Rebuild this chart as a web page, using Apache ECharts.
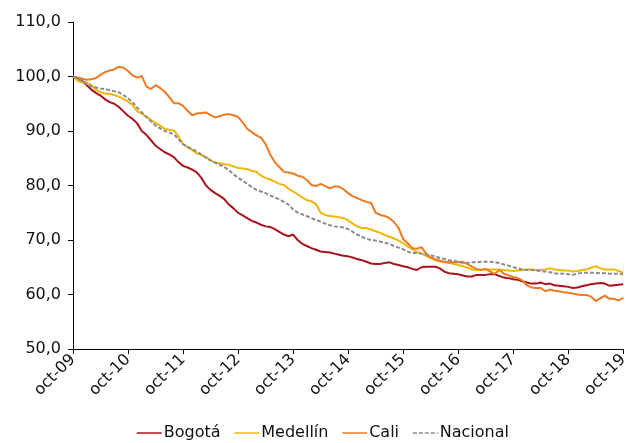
<!DOCTYPE html>
<html>
<head>
<meta charset="utf-8">
<script src="https://cdn.jsdelivr.net/npm/echarts@6/dist/echarts.min.js"></script>
<style>
  html, body { margin: 0; padding: 0; background: #fff; }
  #chart { width: 631px; height: 443px; }
</style>
</head>
<body>
<div id="chart"></div>
<script>
// Monthly index (oct-09 = 100), oct-09 .. oct-19
const monthNames = ['ene', 'feb', 'mar', 'abr', 'may', 'jun', 'jul', 'ago', 'sep', 'oct', 'nov', 'dic'];
const startYear = 2009;
const startMonth = 9; // octubre
const monthCount = 121;

const bogota = [
  100.0, 99.7, 99.2, 98.4, 97.6, 97.0, 96.5, 95.8, 95.3, 95.0, 94.4, 93.6,
  92.8, 92.2, 91.4, 90.0, 89.3, 88.3, 87.3, 86.7, 86.1, 85.7, 85.2, 84.3,
  83.6, 83.3, 82.9, 82.4, 81.4, 80.0, 79.2, 78.6, 78.1, 77.5, 76.5, 75.8,
  75.0, 74.5, 74.0, 73.5, 73.2, 72.8, 72.5, 72.4, 72.0, 71.5, 71.0, 70.7,
  71.0, 70.0, 69.3, 68.9, 68.5, 68.2, 67.9, 67.8, 67.7, 67.5, 67.3, 67.1,
  67.0, 66.8, 66.5, 66.3, 66.0, 65.7, 65.6, 65.6, 65.8, 65.9, 65.6, 65.4,
  65.2, 65.0, 64.7, 64.5, 65.0, 65.1, 65.1, 65.1, 64.8, 64.2, 63.9, 63.8,
  63.7, 63.5, 63.3, 63.3, 63.6, 63.6, 63.6, 63.7, 63.7, 63.4, 63.1, 63.0,
  62.8, 62.7, 62.4, 62.2, 62.0, 62.0, 62.2, 61.9, 62.0, 61.7, 61.6, 61.5,
  61.4, 61.2, 61.3, 61.5, 61.7, 61.9, 62.0, 62.1, 62.0, 61.6, 61.7, 61.8,
  61.9
];

const medellin = [
  100.0, 99.2, 98.9, 98.9, 98.4, 97.6, 97.1, 96.9, 96.8, 96.6, 96.3, 95.9,
  95.4, 94.8, 93.6, 93.2, 92.6, 92.0, 91.5, 91.0, 90.4, 90.2, 90.1, 89.0,
  87.6, 87.0, 86.5, 85.9, 85.6, 85.2, 84.6, 84.2, 84.1, 83.9, 83.8, 83.5,
  83.2, 83.1, 83.0, 82.7, 82.5, 81.8, 81.4, 81.1, 80.7, 80.3, 80.1, 79.4,
  78.9, 78.4, 77.8, 77.3, 77.1, 76.6, 75.0, 74.6, 74.4, 74.3, 74.2, 74.0,
  73.6, 73.0, 72.5, 72.2, 72.2, 71.9, 71.6, 71.3, 70.9, 70.6, 70.3, 69.9,
  69.4, 68.8, 68.3, 67.8, 67.5, 67.1, 66.7, 66.3, 66.1, 65.9, 65.8, 65.6,
  65.4, 65.2, 64.9, 64.6, 64.5, 64.6, 64.6, 64.6, 64.6, 64.6, 64.5, 64.4,
  64.3, 64.4, 64.5, 64.6, 64.6, 64.5, 64.5, 64.6, 64.8, 64.6, 64.5, 64.4,
  64.4, 64.2, 64.3, 64.5, 64.6, 64.9, 65.2, 64.8, 64.6, 64.6, 64.6, 64.3,
  64.0
];

const cali = [
  100.0, 99.8, 99.6, 99.4, 99.5, 99.7, 100.3, 100.8, 101.1, 101.3, 101.8, 101.6,
  101.0, 100.2, 99.8, 100.1, 98.2, 97.7, 98.4, 97.9, 97.2, 96.2, 95.1, 95.1,
  94.6, 93.7, 92.9, 93.2, 93.3, 93.4, 92.9, 92.5, 92.7, 93.0, 93.1, 92.9,
  92.6, 91.6, 90.4, 89.8, 89.2, 88.8, 87.6, 85.7, 84.3, 83.4, 82.5, 82.4,
  82.2, 81.8, 81.6, 81.0, 80.1, 79.9, 80.3, 79.9, 79.5, 79.8, 79.8, 79.3,
  78.6, 78.0, 77.7, 77.3, 77.0, 76.8, 75.0, 74.6, 74.4, 74.0, 73.3, 72.2,
  70.2, 69.4, 68.5, 68.4, 68.7, 67.5, 66.8, 66.5, 66.2, 66.0, 65.9, 65.9,
  65.9, 66.0, 65.6, 65.1, 64.7, 64.5, 64.7, 64.2, 63.8, 64.5, 63.8, 63.5,
  63.2, 63.0, 62.6, 61.7, 61.3, 61.2, 61.2, 60.6, 60.9, 60.7, 60.6, 60.4,
  60.3, 60.2, 60.0, 59.9, 59.9, 59.6, 58.8, 59.3, 59.8, 59.2, 59.2, 58.9,
  59.4
];

const nacional = [
  100.0, 99.6, 99.2, 98.6, 98.2, 98.0, 97.8, 97.7, 97.5, 97.3, 97.1, 96.6,
  96.0, 95.3, 94.3, 93.4, 92.6, 91.8, 91.0, 90.5, 90.0, 89.7, 89.4, 88.5,
  87.6, 87.1, 86.7, 86.2, 85.7, 85.1, 84.6, 84.2, 83.8, 83.4, 82.8, 82.1,
  81.4, 80.9, 80.3, 79.7, 79.2, 78.9, 78.6, 78.2, 77.8, 77.5, 77.0, 76.5,
  75.6, 75.0, 74.7, 74.4, 74.0, 73.7, 73.4, 73.0, 72.7, 72.5, 72.4, 72.3,
  72.0, 71.5, 71.0, 70.6, 70.2, 70.0, 69.9, 69.7, 69.5, 69.3, 68.9, 68.6,
  68.3, 67.9, 67.6, 67.6, 67.5, 67.4, 67.2, 67.0, 66.7, 66.5, 66.3, 66.2,
  66.0, 65.8, 65.8, 65.9, 65.9, 66.0, 66.0, 66.0, 65.9, 65.8, 65.5, 65.3,
  65.0, 64.8, 64.6, 64.5, 64.5, 64.4, 64.3, 64.2, 64.1, 63.9, 63.8, 63.8,
  63.7, 63.6, 63.8, 64.0, 64.0, 64.0, 64.0, 63.9, 63.9, 63.8, 63.8, 63.8,
  63.7
];

const seriesNames = ['Bogotá', 'Medellín', 'Cali', 'Nacional'];
const seriesColors = ['#A8141B', '#F2B705', '#EE7A22', '#8C8C8C'];

// Category labels such as "oct-09"
const categories = [];
for (let i = 0; i < monthCount; i++) {
  const m = (startMonth + i) % 12;
  const y = startYear + Math.floor((startMonth + i) / 12);
  categories.push(monthNames[m] + '-' + String(y % 100).padStart(2, '0'));
}

const font = 'DejaVu Sans';
const chart = echarts.init(document.getElementById('chart'), null, { renderer: 'canvas' });

const values = [bogota, medellin, cali, nacional];
const series = values.map((data, k) => ({
  name: seriesNames[k],
  type: 'line',
  data: data,
  symbol: 'none',
  smooth: false,
  z: k === 3 ? 5 : 2 + k,
  lineStyle: {
    width: 2,
    color: seriesColors[k],
    type: k === 3 ? [4, 2] : 'solid'
  },
  itemStyle: { color: seriesColors[k] }
}));

chart.setOption({
  animation: false,
  backgroundColor: '#ffffff',
  grid: { left: 73, right: 6, top: 22, bottom: 94, containLabel: false },
  legend: {
    top: 420,
    left: 131,
    itemWidth: 25,
    itemHeight: 16,
    itemGap: 13,
    itemStyle: { opacity: 0 },
    lineStyle: { width: 1.5 },
    textStyle: { fontFamily: font, fontSize: 16, color: '#111', padding: [0, 0, 0, -3] },
    data: seriesNames
  },
  xAxis: {
    type: 'category',
    data: categories,
    boundaryGap: false,
    axisLine: { lineStyle: { color: '#000', width: 1 } },
    axisTick: { interval: 11, length: 5, lineStyle: { color: '#000' } },
    axisLabel: {
      interval: 11,
      rotate: 45,
      margin: 8,
      fontFamily: font,
      fontSize: 16,
      color: '#111'
    },
    splitLine: { show: false }
  },
  yAxis: {
    type: 'value',
    min: 50,
    max: 110,
    interval: 10,
    axisLine: { show: true, lineStyle: { color: '#000', width: 1 } },
    axisTick: { show: true, length: 5, lineStyle: { color: '#000' } },
    axisLabel: {
      margin: 12,
      fontFamily: font,
      fontSize: 16,
      color: '#111',
      formatter: v => v.toFixed(1).replace('.', ',')
    },
    splitLine: { show: false }
  },
  series: series
});
</script>
</body>
</html>
